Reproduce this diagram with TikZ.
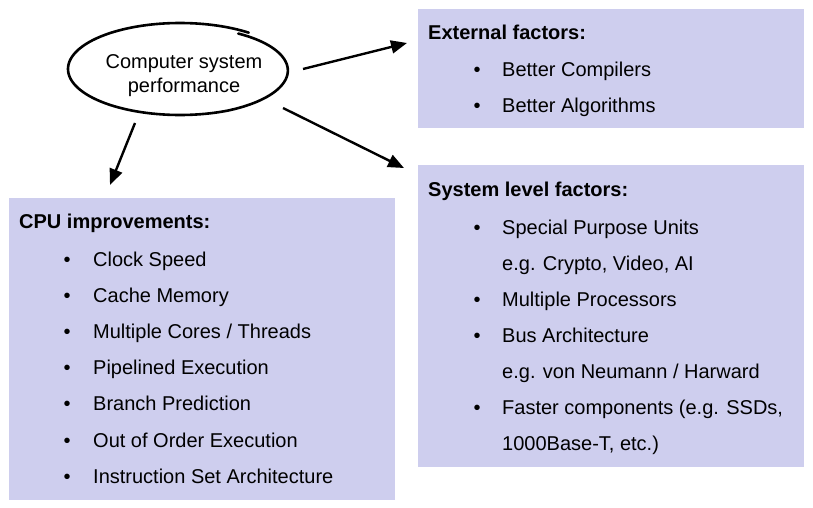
\documentclass[tikz,border=0pt]{standalone}
\usepackage{fontspec}
\setmainfont{Liberation Sans}
\usetikzlibrary{arrows.meta,calc,shapes.geometric}
\definecolor{panel}{RGB}{206,206,238}
\begin{document}
\begin{tikzpicture}[x=1pt,y=-1pt,
  panelbox/.style={fill=panel, draw=none, anchor=north west, inner sep=0pt, outer sep=0pt},
  txt/.style={anchor=base west, inner sep=0pt, font=\fontsize{20}{24}\selectfont},
  hdr/.style={anchor=base west, inner sep=0pt, font=\fontsize{20}{24}\selectfont\bfseries},
  bul/.style={anchor=base, inner sep=0pt, font=\fontsize{20}{24}\selectfont},
  link/.style={line width=2.4pt, -{Triangle[length=16pt,width=13pt]}}]
\useasboundingbox (0,0) rectangle (813,508);

% panels
\node[panelbox, minimum width=386, minimum height=119] (ext) at (418,9) {};
\node[panelbox, minimum width=386, minimum height=302] (sys) at (418,165) {};
\node[panelbox, minimum width=386, minimum height=302] (cpu) at (9,198) {};

% central topic with a hand-drawn outline
\node[ellipse, minimum width=224, minimum height=92, inner sep=0pt, align=center,
      font=\fontsize{20}{24}\selectfont] (perf) at (184,76) {Computer system\\performance};
\draw[line width=2.6pt, line cap=round]
  plot[domain=0:1, samples=160, smooth, variable=\u]
  ({180+112*(1-0.07*max(0,1-3*\u))*cos(56-364*\u)},
   {69-46*(1-0.07*max(0,1-3*\u))*sin(56-364*\u)});

% connectors
\draw[link] ($(perf.center)+(119,-7)$) -- ($(ext.north west)+(-11,34)$);
\draw[link] ($(perf.center)+(99,32)$) -- ($(sys.north west)+(-14,3)$);
\draw[link] ($(perf.center)+(-49,47)$) -- ($(cpu.north west)+(101,-13)$);

% external factors
\node[hdr] (extH) at (428,40) {External factors:};
\node[bul] (extB1) at (477,77) {•};
\node[txt] (extT1) at (502,77) {Better Compilers};
\node[bul] (extB2) at (477,113) {•};
\node[txt] (extT2) at (502,113) {Better Algorithms};

% system level factors
\node[hdr] (sysH) at (428,196) {System level factors:};
\node[bul] (sysB1) at (477,234) {•};
\node[txt] (sysT1) at (502,234) {Special Purpose Units};
\node[txt] (sysT2) at (502,270) {e.g. Crypto, Video, AI};
\node[bul] (sysB3) at (477,306) {•};
\node[txt] (sysT3) at (502,306) {Multiple Processors};
\node[bul] (sysB4) at (477,342) {•};
\node[txt] (sysT4) at (502,342) {Bus Architecture};
\node[txt] (sysT5) at (502,378) {e.g. von Neumann / Harward};
\node[bul] (sysB6) at (477,414) {•};
\node[txt] (sysT6) at (502,414) {Faster components (e.g. SSDs,};
\node[txt] (sysT7) at (502,450) {1000Base-T, etc.)};

% CPU improvements
\node[hdr] (cpuH) at (19,228) {CPU improvements:};
\foreach \y/\t [count=\i] in {266/{Clock Speed}, 302/{Cache Memory},
    338/{Multiple Cores / Threads}, 374/{Pipelined Execution},
    410/{Branch Prediction}, 447/{Out of Order Execution},
    483/{Instruction Set Architecture}} {
  \node[bul] (cpuB\i) at (67,\y) {•};
  \node[txt] (cpuT\i) at (93,\y) {\t};
}
\end{tikzpicture}
\end{document}
